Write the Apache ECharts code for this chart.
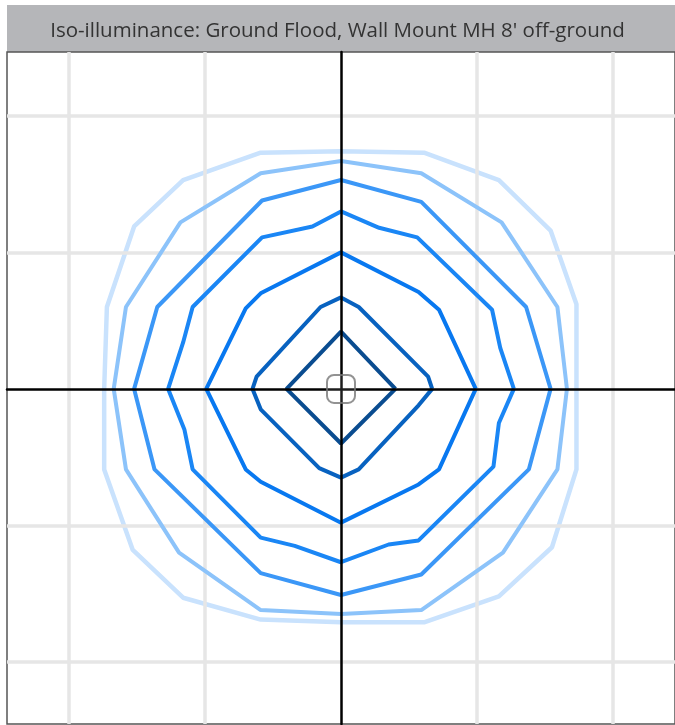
<!DOCTYPE html>
<html>
<head>
<meta charset="utf-8">
<script src="https://cdn.jsdelivr.net/npm/echarts@6/dist/echarts.min.js"></script>
<style>
  html, body { margin: 0; padding: 0; background: #fff; }
  #chart { width: 675px; height: 725px; }
</style>
</head>
<body>
<div id="chart"></div>
<script>
// plot units: one grid square = 10
const gridTicks = [-20, -10, 10, 20];
const luminaire = [[0, 0]];

// iso-lux contours, innermost (brightest) first
const contour1 = [[4.0,0],[0,4.2],[-4.0,0],[0,-4.0],[4.0,0]];
const contour2 = [[6.7,0],[6.4,0.9],[1.3,6.0],[0,6.7],[-1.5,6.0],[-6.2,0.9],[-6.5,0],[-5.9,-1.5],[-1.6,-5.8],[0,-6.5],[1.3,-5.9],[5.7,-1.2],[6.7,0]];
const contour3 = [[9.9,0],[7.2,5.8],[5.7,7.1],[0,10.0],[-5.9,7.0],[-7.0,5.9],[-9.9,0],[-7.0,-5.9],[-5.9,-6.8],[0,-9.8],[5.7,-7.0],[7.2,-5.9],[9.9,0]];
const contour4 = [[12.7,0],[11.7,3.0],[11.1,5.8],[5.6,11.1],[2.8,11.8],[0,13.0],[-2.1,11.9],[-5.8,11.1],[-10.9,6.0],[-11.6,3.4],[-12.7,0],[-11.5,-3.0],[-10.9,-5.9],[-5.9,-10.9],[-3.4,-11.5],[0,-12.7],[3.5,-11.4],[5.7,-11.1],[11.2,-5.7],[11.6,-2.5],[12.7,0]];
const contour5 = [[15.4,0],[13.6,6.0],[5.9,13.7],[0,15.3],[-5.8,13.8],[-13.5,6.0],[-15.2,0],[-13.7,-5.9],[-5.9,-13.5],[0,-15.1],[5.9,-13.6],[13.8,-5.9],[15.4,0]];
const contour6 = [[16.6,0],[15.9,6.0],[11.8,12.2],[5.9,15.8],[0,16.7],[-5.9,15.8],[-11.8,12.2],[-15.8,6.0],[-16.7,0],[-15.8,-5.9],[-11.9,-12.0],[-5.9,-16.2],[0,-16.5],[5.9,-16.2],[11.9,-12.0],[15.9,-5.9],[16.6,0]];
const contour7 = [[17.3,0],[17.3,6.2],[15.4,11.6],[11.6,15.3],[6.1,17.3],[0,17.4],[-5.9,17.3],[-11.6,15.3],[-15.2,11.9],[-17.2,6.0],[-17.4,0],[-17.4,-5.9],[-15.3,-11.8],[-11.6,-15.3],[-5.9,-16.9],[0,-17.1],[6.1,-17.1],[11.6,-15.2],[15.5,-11.6],[17.3,-5.9],[17.3,0]];

const contours = [contour1, contour2, contour3, contour4, contour5, contour6, contour7];
const contourColors = ['#0a4c90', '#0862c0', '#0878f0', '#1a86f5', '#3b97f7', '#8cc3fa', '#c9e2fd'];

const chart = echarts.init(document.getElementById('chart'));

const contourSeries = contours.map((pts, i) => ({
  type: 'line',
  data: pts,
  showSymbol: false,
  symbol: 'none',
  smooth: false,
  silent: true,
  z: 10 - i,
  lineStyle: { color: contourColors[i], width: i === 6 ? 4.5 : 4 }
}));

const option = {
  animation: false,
  backgroundColor: '#fff',
  title: {
    text: "Iso-illuminance: Ground Flood, Wall Mount MH 8' off-ground",
    left: 'center',
    top: 16,
    textStyle: { fontFamily: 'Open Sans', fontSize: 20.5, fontWeight: 'normal', color: '#333' }
  },
  graphic: [
    { type: 'rect', left: 7, top: 5, z: -1, shape: { width: 670, height: 47 }, style: { fill: '#b5b6b9' } }
  ],
  grid: {
    left: 7, top: 52, width: 670, height: 672,
    show: true, borderColor: '#555', borderWidth: 1.5, backgroundColor: 'transparent'
  },
  xAxis: {
    type: 'value', min: -24.54, max: 24.54, z: 20,
    axisLine: { onZero: true, lineStyle: { color: '#000', width: 2.5 } },
    axisTick: { show: false }, axisLabel: { show: false }, splitLine: { show: false }
  },
  yAxis: {
    type: 'value', min: -24.55, max: 24.68, z: 20,
    axisLine: { onZero: true, lineStyle: { color: '#000', width: 2.5 } },
    axisTick: { show: false }, axisLabel: { show: false }, splitLine: { show: false }
  },
  series: [
    {
      type: 'scatter',
      data: [],
      silent: true,
      z: 1,
      markLine: {
        silent: true,
        symbol: ['none', 'none'],
        label: { show: false },
        lineStyle: { color: '#e6e6e6', width: 3.5, type: 'solid' },
        data: gridTicks.map(v => ({ xAxis: v })).concat(gridTicks.map(v => ({ yAxis: v })))
      }
    },
    ...contourSeries,
    {
      type: 'scatter',
      data: luminaire,
      silent: true,
      z: 30,
      symbol: 'roundRect',
      symbolSize: 28,
      itemStyle: { color: 'rgba(255,255,255,0.15)', borderColor: '#777', borderWidth: 2 }
    }
  ]
};

chart.setOption(option);
</script>
</body>
</html>
